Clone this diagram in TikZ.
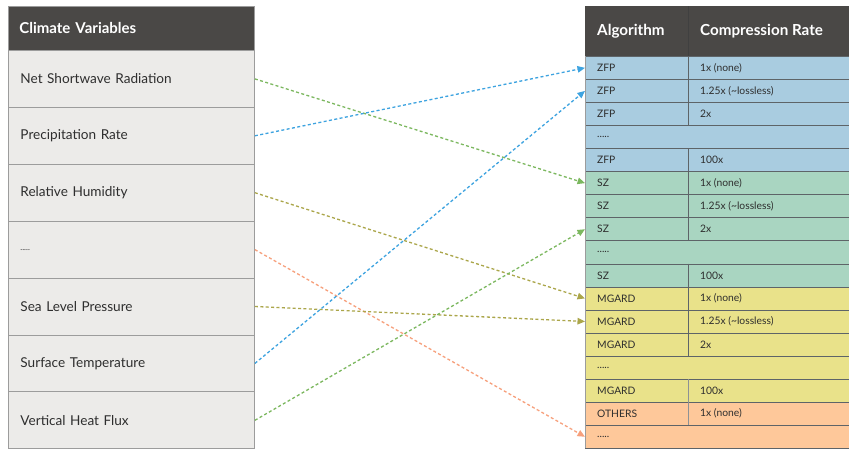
\documentclass[tikz,border=0pt]{standalone}
\usepackage{fontspec}
\setmainfont{Lato}
\usetikzlibrary{arrows.meta}
\newcommand\myfivedots{.....}
\definecolor{hdr}{HTML}{4A4846}
\definecolor{lgray}{HTML}{ECEBE9}
\definecolor{bgray}{HTML}{9C9C9C}
\definecolor{txt}{HTML}{2E2E2E}
\definecolor{cb}{HTML}{A9CCE0}
\definecolor{cg}{HTML}{A9D5C1}
\definecolor{cy}{HTML}{E9E28A}
\definecolor{co}{HTML}{FEC89A}
\definecolor{rline}{HTML}{5E6468}
\definecolor{agreen}{HTML}{7CB85F}
\definecolor{ablue}{HTML}{3DA3E0}
\definecolor{aolive}{HTML}{ABA64A}
\definecolor{aorange}{HTML}{F7A07C}
\tikzset{
  lhead/.style={fill=hdr, draw=bgray, line width=0.8pt, anchor=north west, minimum width=246pt, minimum height=44pt,
    inner xsep=11pt, inner ysep=0pt, text width=224pt, align=left, text=white, font=\fontsize{15}{17}\selectfont\bfseries},
  lrow/.style={fill=lgray, draw=bgray, line width=0.9pt, anchor=north west, minimum width=246pt, minimum height=56.9pt,
    inner xsep=12pt, inner ysep=0pt, text width=222pt, align=left, text=txt, font=\fontsize{13.6}{15}\selectfont},
  rhead/.style={fill=hdr, draw=none, anchor=north west, minimum width=270pt, minimum height=50pt, inner sep=0pt},
  rrow/.style={draw=rline, line width=0.6pt, anchor=north west, minimum width=270pt, minimum height=23.06pt, inner sep=0pt},
  rtxt/.style={anchor=west, inner sep=0pt, text=txt, font=\fontsize{10.3}{12}\selectfont},
  htxt/.style={anchor=west, inner sep=0pt, text=white, font=\fontsize{15.2}{17}\selectfont\bfseries},
  divline/.style={draw=rline, line width=0.6pt},
  arr/.style={line width=1.3pt, dash pattern=on 3pt off 2.4pt, -{Triangle[length=7.5pt,width=6.5pt]}}
}
\begin{document}
\begin{tikzpicture}[x=1pt,y=-1pt]
\useasboundingbox[fill=white] (0,0) rectangle (849,448);
% left table
\node[lhead] (lh) at (8,6) {Climate Variables};
\foreach \t [count=\i] in {Net Shortwave Radiation, Precipitation Rate, Relative Humidity, {\fontsize{8}{9}\selectfont\myfivedots}, Sea Level Pressure, Surface Temperature, Vertical Heat Flux}
  \node[lrow] (l\i) at (8,{50+(\i-1)*56.9}) {\t};
% right table
\node[rhead] (rh) at (585,6) {};
\node[htxt] (ha) at (597,31.5) {Algorithm};
\node[htxt] (hc) at (700,31.5) {Compression Rate};
\foreach \a/\b/\c [count=\i] in {
  ZFP/1x (none)/cb, ZFP/1.25x (\textasciitilde lossless)/cb, ZFP/2x/cb, \myfivedots/{}/cb, ZFP/100x/cb,
  SZ/1x (none)/cg, SZ/1.25x (\textasciitilde lossless)/cg, SZ/2x/cg, \myfivedots/{}/cg, SZ/100x/cg,
  MGARD/1x (none)/cy, MGARD/1.25x (\textasciitilde lossless)/cy, MGARD/2x/cy, \myfivedots/{}/cy, MGARD/100x/cy,
  OTHERS/1x (none)/co, \myfivedots/{}/co}
{
  \node[rrow, fill=\c] (r\i) at (585,{56+(\i-1)*23.06}) {};
  \node[rtxt] (ra\i) at ([xshift=12pt]r\i.west) {\a};
  \node[rtxt] (rb\i) at ([xshift=115pt]r\i.west) {\b};
}
\draw[line width=0.8pt, draw=bgray] (585,56) -- (585,448);
% column dividers
\draw[divline, draw=black!75] (688,6) -- (688,56);
\draw[divline] (688,56) -- (688,125.2);
\draw[divline] (688,148.2) -- (688,240.4);
\draw[divline] (688,263.5) -- (688,355.7);
\draw[divline, draw=rline!70] (688,378.8) -- (688,424.9);
% connectors
\draw[arr, agreen] (l1.east) -- (r6.west);
\draw[arr, ablue] (l2.east) -- (r1.west);
\draw[arr, aolive] (l3.east) -- (r11.west);
\draw[arr, aorange] (l4.east) -- (r17.west);
\draw[arr, aolive] (l5.east) -- (r12.west);
\draw[arr, ablue] (l6.east) -- (r2.west);
\draw[arr, agreen] (l7.east) -- (r8.west);
\end{tikzpicture}
\end{document}
